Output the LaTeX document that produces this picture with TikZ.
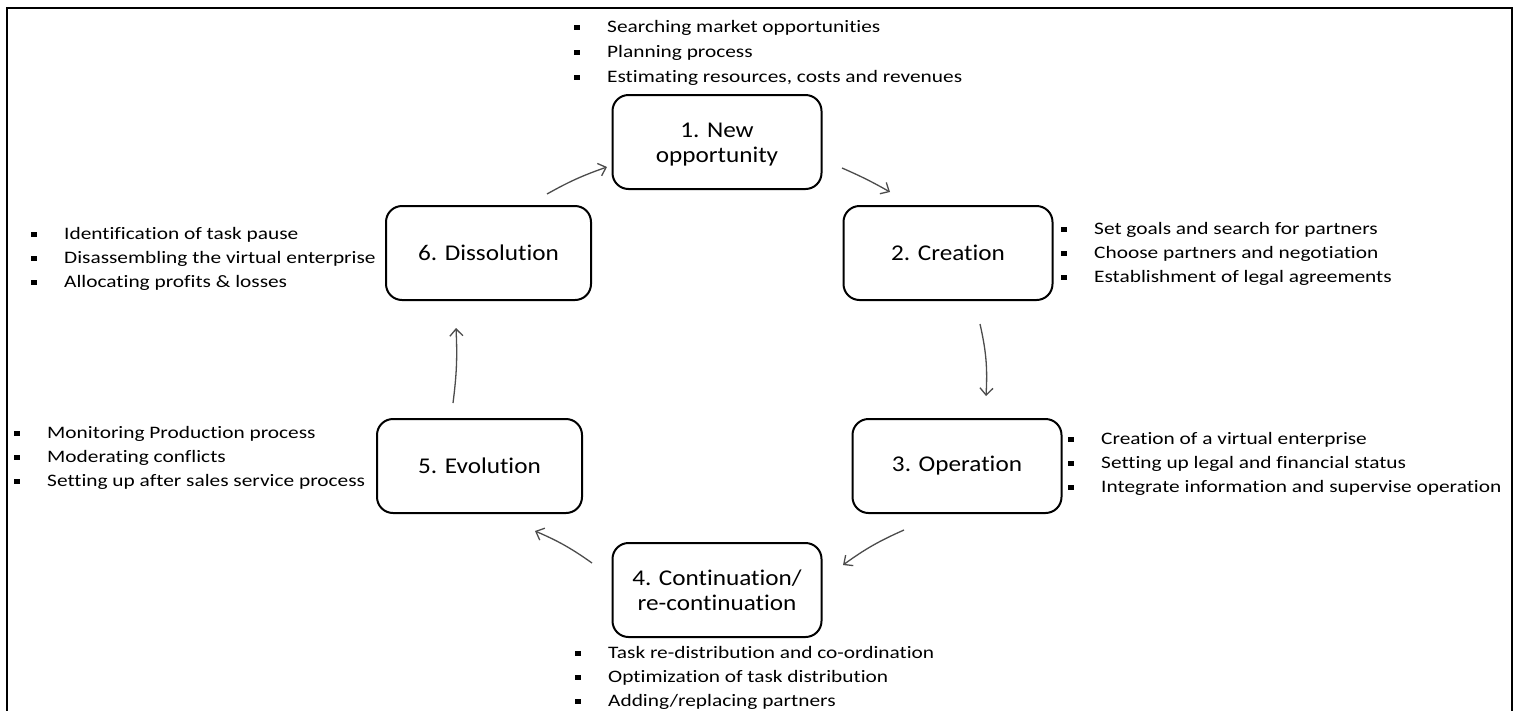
\documentclass[tikz,border=0pt]{standalone}
\usepackage{fontspec}
\setmainfont{Carlito}[Ligatures=CommonOff]
\newfontfamily\lfont{Carlito}[FakeStretch=1.22, Ligatures=CommonOff]
\newfontfamily\bfont{Carlito}[FakeStretch=1.12, Ligatures=CommonOff]
\usetikzlibrary{arrows.meta}
\newcommand\sqb{\makebox[33pt][l]{\rule[0.12em]{5.5pt}{5.5pt}}}
\tikzset{
  stage/.style={draw=black, line width=2pt, rounded corners=16pt, minimum width=209pt, minimum height=94pt,
                align=center, font=\bfont\fontsize{22.5}{25}\selectfont, inner sep=0pt},
  blist/.style={anchor=west, align=left, inner sep=0pt, font=\lfont\fontsize{17.5}{24}\selectfont},
  flow/.style={draw=black!70, line width=1.3pt, -{Straight Barb[length=7pt,width=13pt,line width=1.3pt]}}
}
\begin{document}
\begin{tikzpicture}[x=1pt,y=-1pt]
\useasboundingbox (0,0) rectangle (1515,710);
\draw[line width=2pt] (7,712) -- (7,8) -- (1512,8) -- (1512,712);
% stages
\node[stage] (n1) at (717,142) {\raisebox{0pt}[\dimexpr\height+6pt]{1. New}\\opportunity};
\node[stage] (n2) at (948,253) {2. Creation};
\node[stage] (n3) at (957,466) {3. Operation};
\node[stage] (n4) at (717,590) {4. Continuation/\\re-continuation};
\node[stage, minimum width=205pt] (n5) at (479.5,466) {5. Evolution};
\node[stage, minimum width=205pt] (n6) at (488.5,253) {6. Dissolution};
% lists
\node[blist, font=\lfont\fontsize{17.5}{25}\selectfont] (l1) at (574,53) {\sqb Searching market opportunities\\\sqb Planning process\\\sqb Estimating resources, costs and revenues};
\node[blist] (l2) at (1061,254) {\sqb Set goals and search for partners\\\sqb Choose partners and negotiation\\\sqb Establishment of legal agreements};
\node[blist] (l3) at (1068,464) {\sqb Creation of a virtual enterprise\\\sqb Setting up legal and financial status\\\sqb Integrate information and supervise operation};
\node[blist] (l4) at (575,678) {\sqb Task re-distribution and co-ordination\\\sqb Optimization of task distribution\\\sqb Adding/replacing partners};
\node[blist] (l5) at (14,458) {\sqb Monitoring Production process\\\sqb Moderating conflicts\\\sqb Setting up after sales service process};
\node[blist] (l6) at (31,259) {\sqb Identification of task pause\\\sqb Disassembling the virtual enterprise\\\sqb Allocating profits \& losses};
% arrow end points
\coordinate (a61) at (547,194); \coordinate (b61) at (607,167);
\coordinate (a12) at (842,168); \coordinate (b12) at (890,192);
\coordinate (a23) at (980,324); \coordinate (b23) at (986,396);
\coordinate (a34) at (904,530); \coordinate (b34) at (843,565);
\coordinate (a45) at (592,563); \coordinate (b45) at (535,531);
\coordinate (a56) at (453,403); \coordinate (b56) at (456,328);
\draw[flow] (a61) to[bend left=5] (b61);
\draw[flow] (a12) to[bend left=3] (b12);
\draw[flow] (a23) to[bend left=8] (b23);
\draw[flow] (a34) to[bend right=6] (b34);
\draw[flow] (a45) to[bend right=6] (b45);
\draw[flow] (a56) to[bend right=5] (b56);
\end{tikzpicture}
\end{document}
